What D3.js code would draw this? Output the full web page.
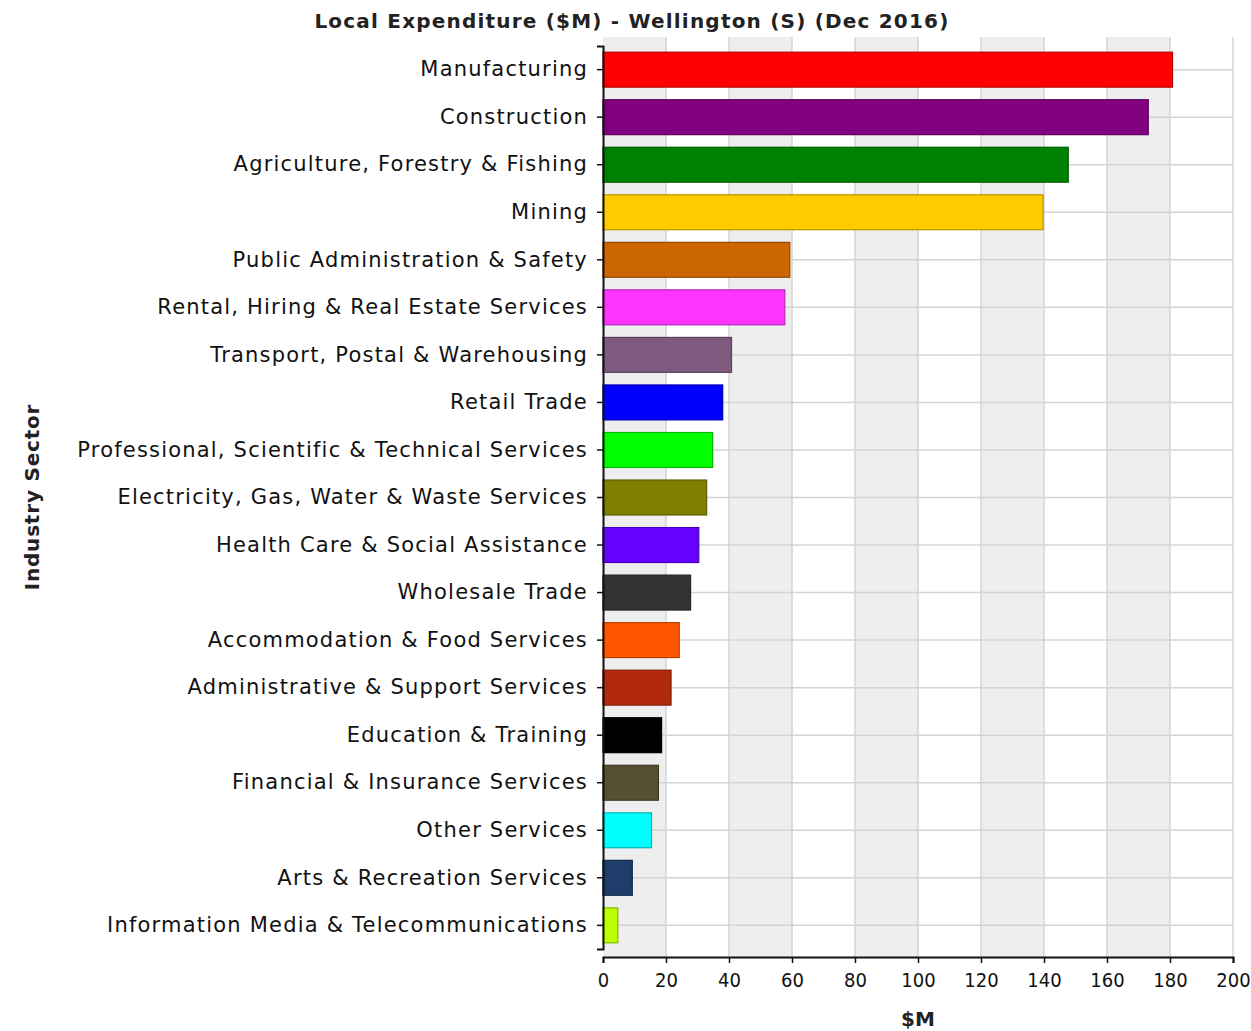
<!DOCTYPE html>
<html>
<head>
<meta charset="utf-8">
<style type="text/css">
    body {
        margin: 0;
        background: white;
        font-family: "DejaVu Sans", sans-serif;
    }

    .y-axis .tick text {
        font-family: "DejaVu Sans", sans-serif;
        font-size: 21px;
        letter-spacing: 1.2px;
        fill: #111;
    }

    .x-axis .tick text {
        font-family: "DejaVu Sans Condensed", "DejaVu Sans", sans-serif;
        font-size: 20px;
        fill: #111;
    }

    .title {
        font-family: "DejaVu Sans", sans-serif;
        font-size: 20px;
        font-weight: bold;
        fill: #222;
    }
</style>
</head>
<body>
    <script src="https://d3js.org/d3.v7.min.js"></script>
    <script type="text/javascript">

        var sectors = ["Manufacturing", "Construction", "Agriculture, Forestry & Fishing", "Mining",
            "Public Administration & Safety", "Rental, Hiring & Real Estate Services",
            "Transport, Postal & Warehousing", "Retail Trade",
            "Professional, Scientific & Technical Services", "Electricity, Gas, Water & Waste Services",
            "Health Care & Social Assistance", "Wholesale Trade", "Accommodation & Food Services",
            "Administrative & Support Services", "Education & Training", "Financial & Insurance Services",
            "Other Services", "Arts & Recreation Services", "Information Media & Telecommunications"];

        var expenditure = [180.8, 173.1, 147.7, 139.7, 59.3, 57.7, 40.8, 38.0, 34.8, 32.9,
            30.4, 27.8, 24.2, 21.6, 18.6, 17.6, 15.4, 9.3, 4.7];

        var colours = ["#ff0000", "#800080", "#008000", "#ffcc00", "#cc6600", "#ff33ff", "#7f5a7f",
            "#0000ff", "#00ff00", "#808000", "#6600ff", "#333333", "#ff5500", "#b22a0e", "#000000",
            "#575030", "#00ffff", "#1e3d6b", "#bbff00"];

        var xTicks = [0, 20, 40, 60, 80, 100, 120, 140, 160, 180, 200];

        var width = 1251, height = 1031;
        var plot = { left: 603, right: 1233, top: 37, bottom: 957 };

        var svg = d3.select("body").append("svg")
            .attr("width", width)
            .attr("height", height);

        var x = d3.scaleLinear()
            .domain([0, 200])
            .range([plot.left, plot.right]);

        var y = d3.scaleBand()
            .domain(sectors)
            .range([plot.top + 9, plot.bottom - 8])
            .paddingInner(0.265)
            .paddingOuter(0.13);

        // alternating background bands
        svg.append("g")
            .selectAll("rect")
            .data(xTicks.slice(0, -1))
            .enter().append("rect")
            .attr("x", function (d) { return x(d); })
            .attr("y", plot.top)
            .attr("width", function (d) { return x(d + 20) - x(d); })
            .attr("height", plot.bottom - plot.top)
            .style("fill", function (d, i) { return i % 2 == 0 ? "#eeeeee" : "white"; });

        // grid lines
        svg.append("g")
            .selectAll("line")
            .data(xTicks.slice(1))
            .enter().append("line")
            .attr("x1", function (d) { return x(d); })
            .attr("x2", function (d) { return x(d); })
            .attr("y1", plot.top)
            .attr("y2", plot.bottom)
            .style("stroke", "#d4d4d4")
            .style("stroke-width", 1.5);

        svg.append("g")
            .selectAll("line")
            .data(sectors)
            .enter().append("line")
            .attr("x1", plot.left)
            .attr("x2", plot.right)
            .attr("y1", function (d) { return y(d) + y.bandwidth() / 2; })
            .attr("y2", function (d) { return y(d) + y.bandwidth() / 2; })
            .style("stroke", "#d4d4d4")
            .style("stroke-width", 1.5);

        // bars
        svg.append("g")
            .selectAll("rect")
            .data(sectors)
            .enter().append("rect")
            .attr("x", x(0))
            .attr("y", function (d) { return y(d); })
            .attr("width", function (d, i) { return x(expenditure[i]) - x(0); })
            .attr("height", y.bandwidth())
            .style("fill", function (d, i) { return colours[i]; })
            .style("stroke", function (d, i) { return d3.color(colours[i]).darker(0.9); })
            .style("stroke-width", 1.2);

        // axes
        var xAxis = svg.append("g")
            .attr("class", "x-axis")
            .attr("transform", "translate(0," + plot.bottom + ")")
            .call(d3.axisBottom(x).tickValues(xTicks).tickSize(6).tickPadding(10));
        xAxis.select(".domain").style("stroke", "#111").style("stroke-width", 2);

        var yAxis = svg.append("g")
            .attr("class", "y-axis")
            .attr("transform", "translate(" + plot.left + ",0)")
            .call(d3.axisLeft(y).tickSize(6).tickPadding(9));
        yAxis.select(".domain").style("stroke", "#111").style("stroke-width", 2);

        svg.selectAll(".tick line").style("stroke", "#111").style("stroke-width", 1.5);

        // titles
        svg.append("text")
            .attr("class", "title")
            .attr("x", 632)
            .attr("y", 28)
            .attr("text-anchor", "middle")
            .style("letter-spacing", "1.2px")
            .text("Local Expenditure ($M) - Wellington (S) (Dec 2016)");

        svg.append("text")
            .attr("class", "title")
            .attr("x", x(100))
            .attr("y", 1026)
            .attr("text-anchor", "middle")
            .text("$M");

        svg.append("text")
            .attr("class", "title")
            .attr("transform", "translate(39," + ((plot.top + plot.bottom) / 2) + ") rotate(-90)")
            .attr("text-anchor", "middle")
            .style("letter-spacing", "0.8px")
            .text("Industry Sector");

    </script>
</body>
</html>
